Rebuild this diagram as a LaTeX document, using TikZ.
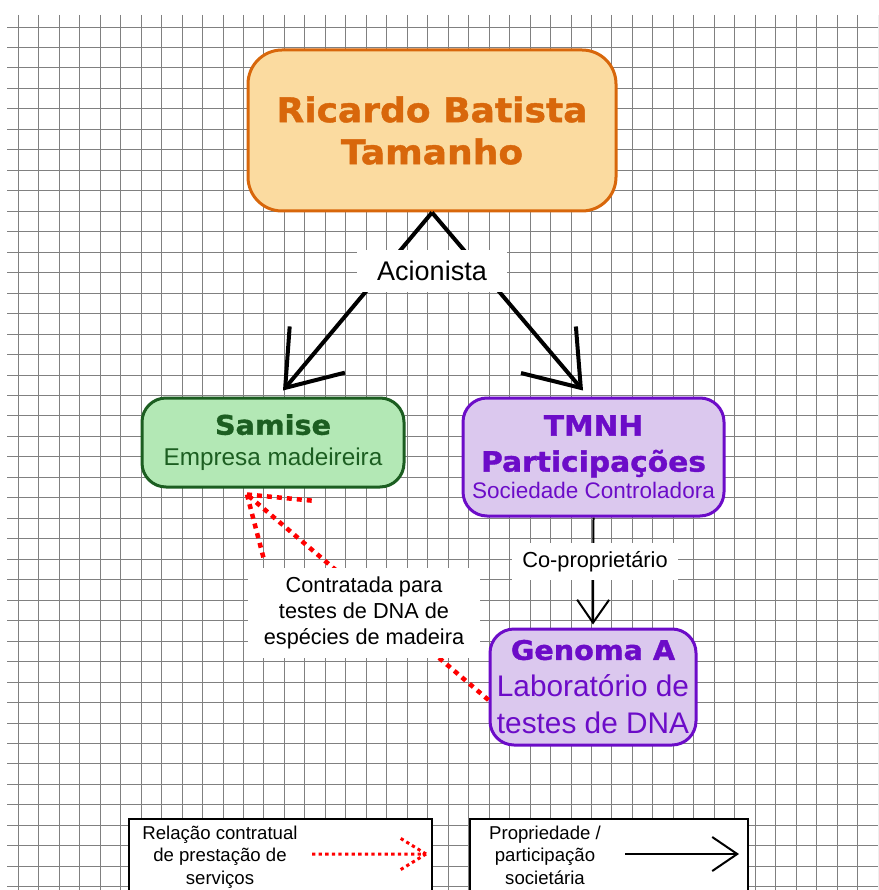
\documentclass[tikz,border=0pt]{standalone}
\usepackage{fontspec}
\setmainfont{Liberation Sans}
\newfontfamily\heavy{DejaVu Sans}[BoldFeatures={FakeBold=1.3,FakeStretch=1.06}]
\usetikzlibrary{arrows.meta}

\definecolor{orfill}{HTML}{FBDBA0}
\definecolor{ordraw}{HTML}{D8670B}
\definecolor{grfill}{HTML}{B3E8B5}
\definecolor{grdraw}{HTML}{1C5E21}
\definecolor{pufill}{HTML}{DBC8EE}
\definecolor{pudraw}{HTML}{6C0CC8}

\newcommand{\bodysize}[1]{\normalfont\fontsize{#1}{#1}\selectfont}

\begin{document}
\begin{tikzpicture}[x=1pt,y=-1pt]

	\useasboundingbox (0,0) rectangle (878,890);
	\clip (0,0) rectangle (878,890);

	\tikzset{box/.style={draw,line width=3pt,rounded corners=24pt,align=center,inner sep=0pt}}
	\tikzset{tag/.style={fill=white,align=center,inner sep=0pt}}
	\tikzset{legend/.style={draw,fill=white,line width=2.5pt,minimum width=303pt,minimum height=100pt}}
	\tikzset{own/.style={line width=4pt,-{Straight Barb[length=50pt,width=72pt]}}}
	\tikzset{contract/.style={red,line width=4.5pt,dash pattern=on 5pt off 5pt}}

	% grid paper

	\foreach \k in {0,...,42} {
		\draw[black!50,line width=0.9pt] ({18.3+20.47*\k},15) -- ({18.3+20.47*\k},890);
		\draw[black!50,line width=0.9pt] (7,{27+20.47*\k}) -- (878,{27+20.47*\k});
	}

	% boxes

	\node[box,rounded corners=34pt,fill=orfill,draw=ordraw,text=ordraw,minimum width=368pt,minimum height=161pt,
		font=\heavy\bfseries\fontsize{34}{42}\selectfont] (ricardo) at (432,130.5) {Ricardo Batista\\Tamanho};

	\node[box,fill=grfill,draw=grdraw,text=grdraw,minimum width=262pt,minimum height=89pt,
		font=\heavy\bfseries\fontsize{27}{31}\selectfont] (samise) at (273,442.5) {Samise\\\bodysize{24.3}Empresa madeireira};

	\node[box,fill=pufill,draw=pudraw,text=pudraw,minimum width=261pt,minimum height=118pt,
		font=\heavy\bfseries\fontsize{28}{36}\selectfont] (tmnh) at (593.5,457) {TMNH\\Participações\\[-9pt]\bodysize{22.5}Sociedade Controladora};

	\node[box,fill=pufill,draw=pudraw,text=pudraw,minimum width=206pt,minimum height=116pt,
		font=\heavy\bfseries\fontsize{27}{37}\selectfont] (genoma) at (593,687) {Genoma A\\\bodysize{29.8}Laboratório de\\\bodysize{29.8}testes de DNA};

	% ownership

	\draw[own] (ricardo.south) -- ([xshift=10pt,yshift=6pt]samise.north);
	\draw[own] (ricardo.south) -- ([xshift=-10.5pt,yshift=6pt]tmnh.north);
	\node[tag,minimum width=150pt,minimum height=42pt,font=\fontsize{27}{32}\selectfont] (acionista) at (432,271) {Acionista};

	\draw[line width=2pt,-{Straight Barb[length=23pt,width=32pt]}] (tmnh.south) -- ([yshift=3pt]genoma.north);
	\node[tag,minimum width=166pt,minimum height=37pt,font=\fontsize{21.8}{26}\selectfont] (coprop) at (595,561.5) {Co-proprietário};

	% contract

	\coordinate (samtip) at ([xshift=-26pt,yshift=-6pt]samise.south);
	\draw[contract] ([yshift=-13pt]genoma.west) -- (samtip);
	\draw[contract] (samtip) -- +(5.4:65) (samtip) -- +(75.4:65);
	\node[tag,minimum width=232pt,minimum height=90pt,font=\fontsize{21.7}{26}\selectfont] (contratada) at (364,613)
		{Contratada para\\testes de DNA de\\espécies de madeira};

	% legend

	\node[legend] (legcontract) at (280.5,869) {};
	\node[align=center,font=\fontsize{18.6}{22.5}\selectfont] (legcontracttext) at (220,857) {Relação contratual\\de prestação de\\serviços};
	\coordinate (legcontracta) at (312,854);
	\coordinate (legcontractb) at (426,854);
	\draw[contract,line width=3pt,dash pattern=on 3.3pt off 3.3pt] (legcontracta) -- (legcontractb)
		(legcontractb) -- +(211.6:30.5) (legcontractb) -- +(148.4:30.5);

	\node[legend,minimum width=278pt] (legown) at (609,869) {};
	\node[align=center,font=\fontsize{18.6}{22.5}\selectfont] (legowntext) at (545,855) {Propriedade /\\participação\\societária};
	\coordinate (legowna) at (625,854);
	\coordinate (legownb) at (739,854);
	\draw[line width=2pt,-{Straight Barb[length=25pt,width=34pt]}] (legowna) -- (legownb);

\end{tikzpicture}
\end{document}
